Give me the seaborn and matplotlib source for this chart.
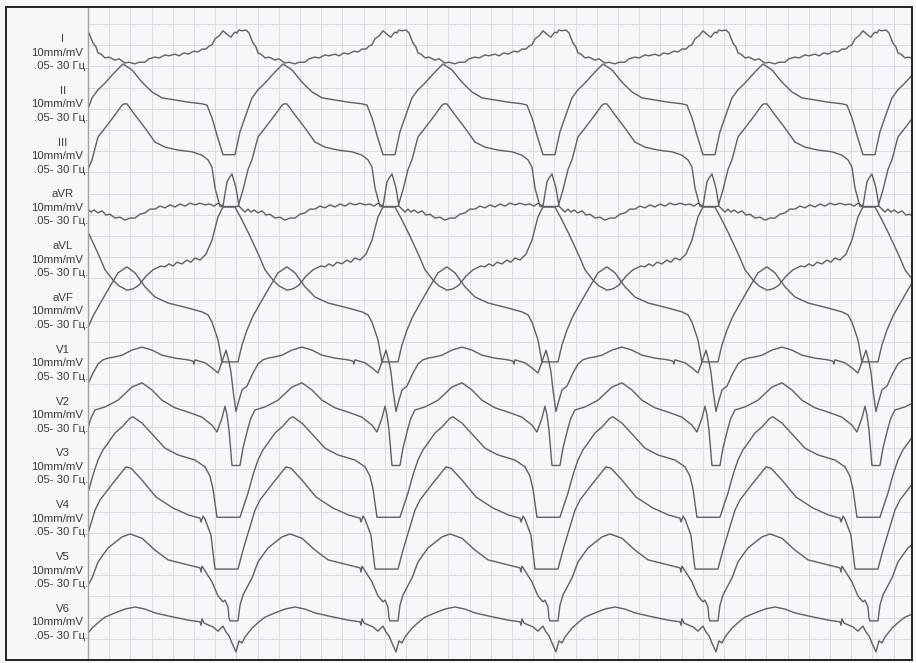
import numpy as np
import pandas as pd
import seaborn as sns
import matplotlib.pyplot as plt
from matplotlib.patches import Rectangle

# ---- recording parameters -------------------------------------------------
FS = 106            # samples per second (25 mm/s paper)
RR = 160            # samples per cardiac cycle
FIRST_QRS = -19     # sample of the first QRS centre relative to trace start
N_BEATS = 6
TRACE_SECONDS = 7.774

LEADS = ["I", "II", "III", "aVR", "aVL", "aVF",
         "V1", "V2", "V3", "V4", "V5", "V6"]
GAIN_TEXT = "10mm/mV"
FILTER_TEXT = ".05- 30 Гц."

# one cycle per lead: sample offset from QRS centre, amplitude in mV
I_t = [0, 2, 4, 6, 8, 10, 13, 17, 20, 24, 27, 29, 32, 36, 40, 46, 50, 56, 60, 66, 70,
       76, 80, 86, 90, 96, 100, 106, 110, 115, 119, 125, 129, 133, 137, 140, 143, 146,
       150, 154, 158]
I_mv = [0.71, 0.68, 0.75, 0.80, 0.78, 0.85, 0.83, 0.85, 0.78, 0.54, 0.45, 0.31, 0.28,
        0.19, 0.21, 0.14, 0.17, 0.07, 0.09, 0.05, 0.09, 0.09, 0.17, 0.21, 0.19, 0.26,
        0.24, 0.28, 0.24, 0.31, 0.28, 0.35, 0.33, 0.40, 0.40, 0.47, 0.50, 0.64, 0.71,
        0.83, 0.75]

II_t = [0, 6, 11, 18, 23, 29, 36, 46, 54, 63, 73, 83, 93, 106, 119, 133, 138, 143, 148, 154]
II_mv = [-0.87, -0.87, -0.33, 0.14, 0.47, 0.66, 0.82, 1.08, 1.27, 1.13, 0.84, 0.61, 0.47,
         0.42, 0.37, 0.33, 0.30, 0.00, -0.41, -0.87]

III_t = [0, 9, 14, 19, 23, 29, 36, 46, 53, 55, 58, 66, 76, 86, 96, 109, 123, 133, 139,
         143, 146, 151]
III_mv = [-0.87, -0.87, -0.48, 0.00, 0.23, 0.77, 0.98, 1.29, 1.52, 1.55, 1.55, 1.29, 0.98,
          0.65, 0.53, 0.46, 0.42, 0.34, 0.23, 0.06, -0.43, -0.87]

aVR_t = [0, 3, 7, 10, 16, 19, 22, 25, 29, 33, 37, 41, 46, 51, 56, 61, 66, 71, 76, 81, 86,
         91, 96, 101, 106, 111, 116, 121, 126, 131, 136, 141, 145, 149, 154, 158]
aVR_mv = [1.02, 1.12, 0.79, 0.36, 0.22, 0.29, 0.22, 0.27, 0.20, 0.25, 0.15, 0.17, 0.08,
          0.10, 0.03, 0.08, 0.08, 0.17, 0.20, 0.29, 0.29, 0.36, 0.32, 0.39, 0.34, 0.41,
          0.36, 0.43, 0.39, 0.43, 0.39, 0.41, 0.36, 0.43, 0.36, 0.93]

aVL_t = [0, 6, 12, 19, 25, 31, 36, 44, 50, 58, 64, 70, 77, 84, 92, 96, 100, 104, 108, 113,
         118, 122, 126, 131, 137, 143, 149, 154]
aVL_mv = [1.56, 1.56, 1.30, 0.97, 0.67, 0.36, 0.08, -0.16, -0.30, -0.40, -0.37, -0.28,
          -0.07, 0.08, 0.17, 0.15, 0.22, 0.17, 0.26, 0.22, 0.31, 0.26, 0.36, 0.31, 0.45,
          0.78, 1.33, 1.56]

aVF_t = [0, 9, 13, 18, 24, 29, 39, 49, 58, 66, 76, 86, 99, 119, 133, 139, 143, 149, 153]
aVF_mv = [-0.87, -0.87, -0.47, -0.12, 0.21, 0.42, 0.83, 1.23, 1.37, 1.23, 0.90, 0.66,
          0.52, 0.40, 0.31, 0.24, 0.07, -0.35, -0.87]

V1_t = [0, 2, 4, 7, 10, 13, 18, 24, 29, 34, 39, 46, 53, 63, 73, 83, 93, 106, 119, 124,
        125, 126, 136, 143, 149, 153, 157]
V1_mv = [0.35, 0.11, -0.31, -0.82, -0.55, -0.31, -0.22, 0.09, 0.30, 0.40, 0.44, 0.47,
         0.51, 0.63, 0.70, 0.63, 0.51, 0.44, 0.40, 0.37, 0.30, 0.40, 0.33, 0.21, 0.09,
         0.35, 0.63]

V2_t = [0, 3, 11, 14, 19, 22, 26, 36, 49, 63, 73, 83, 93, 106, 119, 133, 143, 148, 153,
        156, 158]
V2_mv = [-0.03, -0.87, -0.87, -0.46, 0.01, 0.25, 0.44, 0.51, 0.67, 0.98, 1.08, 0.91,
         0.67, 0.49, 0.39, 0.27, 0.08, -0.08, 0.25, 0.53, 0.32]

V3_t = [0, 11, 15, 19, 24, 29, 34, 39, 46, 53, 61, 64, 73, 86, 96, 109, 126, 136, 141,
        144, 148]
V3_mv = [-0.87, -0.87, -0.58, -0.30, 0.13, 0.48, 0.72, 0.88, 1.12, 1.26, 1.47, 1.50,
         1.35, 1.02, 0.76, 0.60, 0.48, 0.32, 0.10, -0.20, -0.87]

V4_t = [0, 9, 14, 20, 26, 31, 44, 57, 62, 73, 87, 104, 119, 131, 132, 134, 136, 142, 146]
V4_mv = [-0.87, -0.87, -0.42, 0.05, 0.52, 0.76, 1.16, 1.54, 1.51, 1.23, 0.83, 0.57,
         0.41, 0.33, 0.24, 0.38, 0.31, -0.07, -0.87]

V5_t = [0, 1, 9, 11, 14, 23, 29, 39, 53, 61, 73, 86, 99, 119, 131, 132, 133, 135, 143,
        149, 154, 156, 159]
V5_mv = [-0.80, -0.87, -0.87, -0.50, -0.26, 0.14, 0.52, 0.85, 1.11, 1.18, 1.08, 0.80,
         0.57, 0.45, 0.38, 0.28, 0.42, 0.35, 0.05, -0.28, -0.42, -0.38, -0.54]

V6_t = [0, 3, 7, 10, 13, 16, 23, 30, 36, 46, 56, 66, 76, 86, 99, 119, 131, 132, 133, 135,
        144, 149, 154, 157]
V6_mv = [0.00, -0.17, -0.38, -0.12, -0.17, -0.03, 0.18, 0.33, 0.44, 0.54, 0.63, 0.68,
         0.63, 0.54, 0.47, 0.37, 0.33, 0.25, 0.40, 0.30, 0.21, 0.11, 0.23, 0.09]

CYCLES = {
    "I": (I_t, I_mv), "II": (II_t, II_mv), "III": (III_t, III_mv),
    "aVR": (aVR_t, aVR_mv), "aVL": (aVL_t, aVL_mv), "aVF": (aVF_t, aVF_mv),
    "V1": (V1_t, V1_mv), "V2": (V2_t, V2_mv), "V3": (V3_t, V3_mv),
    "V4": (V4_t, V4_mv), "V5": (V5_t, V5_mv), "V6": (V6_t, V6_mv),
}

# ---- layout (figure pixels) ----------------------------------------------
W, H = 916, 663
PLOT_L, PLOT_R, PLOT_T, PLOT_B = 88, 912, 7, 660
PX_PER_MV = 42.4
ROW_TOP_PX = 66.0
ROW_PITCH_PX = 51.8

PAPER = "#f7f7fa"
GRID = "#dadbe7"
INK = "#606064"

# ---- assemble the rhythm strip -------------------------------------------
rows = []
for k, lead in enumerate(LEADS):
    t_cyc, v_cyc = CYCLES[lead]
    baseline = (PLOT_B - (ROW_TOP_PX + k * ROW_PITCH_PX)) / PX_PER_MV
    for b in range(N_BEATS):
        start = FIRST_QRS + b * RR
        for ts, mv in zip(t_cyc, v_cyc):
            rows.append({"lead": lead,
                         "time": (start + ts) / FS,
                         "signal": baseline + mv})
df = pd.DataFrame(rows)

sns.set_style("white")
plt.rcParams["font.family"] = ["Liberation Sans", "DejaVu Sans"]

fig = plt.figure(figsize=(W / 100, H / 100), dpi=100, facecolor=PAPER)
ax = fig.add_axes([PLOT_L / W, 1 - PLOT_B / H,
                   (PLOT_R - PLOT_L) / W, (PLOT_B - PLOT_T) / H])
ax.set_facecolor(PAPER)

sns.lineplot(data=df, x="time", y="signal", units="lead", estimator=None,
             sort=False, color=INK, linewidth=1.0, ax=ax, legend=False)

ax.set_xlim(0, TRACE_SECONDS)
ax.set_ylim(0, (PLOT_B - PLOT_T) / PX_PER_MV)

# 5 mm paper grid: 0.2 s horizontally, 0.5 mV vertically
ax.set_xticks(np.arange(0, TRACE_SECONDS, 0.2))
ax.set_yticks(np.arange(0, 15.5, 0.5))
ax.grid(True, color=GRID, linewidth=0.7)
ax.set_axisbelow(True)
ax.tick_params(length=0, labelbottom=False, labelleft=False)
ax.set_xlabel("")
ax.set_ylabel("")
for side in ["top", "right", "bottom"]:
    ax.spines[side].set_visible(False)
ax.spines["left"].set_color("#a0a0aa")
ax.spines["left"].set_linewidth(1.0)

# lead annotations
for k, lead in enumerate(LEADS):
    y0 = 39 + k * ROW_PITCH_PX
    fig.text(63 / W, 1 - y0 / H, lead, ha="center", va="center",
             fontsize=8.2, color="#3a3a3a")
    fig.text(57.5 / W, 1 - (y0 + 13.5) / H, GAIN_TEXT, ha="center", va="center",
             fontsize=8.2, color="#3a3a3a")
    fig.text(61 / W, 1 - (y0 + 27) / H, FILTER_TEXT, ha="center", va="center",
             fontsize=8.2, color="#3a3a3a")

# page frame
fig.patches.append(Rectangle((6 / W, 1 - PLOT_B / H), (PLOT_R - 6) / W,
                             (PLOT_B - PLOT_T) / H, transform=fig.transFigure,
                             fill=False, edgecolor="#222222", linewidth=1.4))

fig.savefig("out.png", dpi=100, facecolor=PAPER)
